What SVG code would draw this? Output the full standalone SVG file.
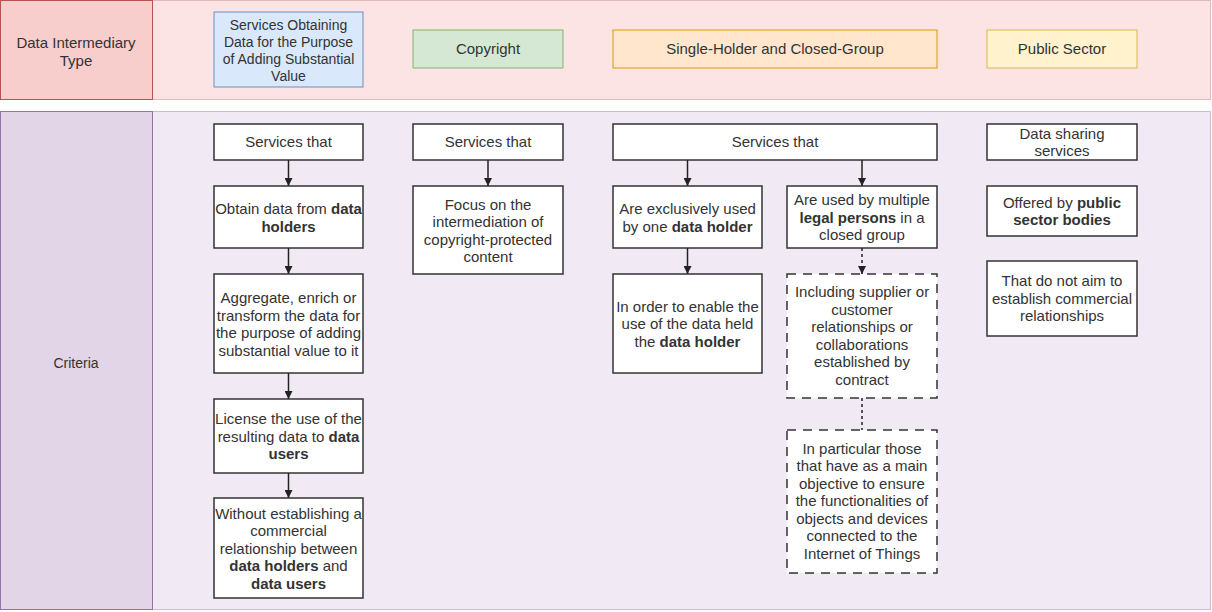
<svg xmlns="http://www.w3.org/2000/svg" width="1212" height="612" viewBox="0 0 1212 612">
<defs>
<style>
text{font-family:"Liberation Sans",Arial,Helvetica,sans-serif;font-size:15px;fill:#333;text-anchor:middle}
.b{font-weight:bold}
.h{font-size:14px}
.box{fill:#fff;stroke:#333;stroke-width:1.5}
.dash{fill:#fff;stroke:#333;stroke-width:1.5;stroke-dasharray:9 7}
.conn{stroke:#222;stroke-width:1.5;fill:none}
.dot{stroke:#222;stroke-width:1.5;fill:none;stroke-dasharray:3 3}
</style>
<marker id="ah" viewBox="0 0 10 10" refX="10" refY="5" markerWidth="8" markerHeight="8" markerUnits="userSpaceOnUse" orient="auto">
<path d="M0,0 L10,5 L0,10 z" fill="#222"/>
</marker>
</defs>
<g id="bands">
<rect x="0.5" y="0.5" width="1210" height="99" fill="#fde4e4" stroke="#e2b9b9"/>
<rect x="0.5" y="0.5" width="152" height="99" fill="#f8cecc" stroke="#b85450"/>
<rect x="0.5" y="111.5" width="1210" height="498" fill="#f1e9f3" stroke="#cdbbd6"/>
<rect x="0.5" y="111.5" width="152" height="498" fill="#e1d5e7" stroke="#9673a6"/>
</g>
<g id="hdr-type"><text x="76" y="48">Data Intermediary</text><text x="76" y="66">Type</text></g>
<g id="hdr-criteria"><text x="76" y="368" style="font-size:14px">Criteria</text></g>
<g id="type-value">
<rect x="214" y="12" width="149" height="75" fill="#dae8fc" stroke="#6c8ebf"/>
<text class="h" x="288.5" y="29.5">Services Obtaining</text><text class="h" x="288.5" y="46.5">Data for the Purpose</text><text class="h" x="288.5" y="63.5">of Adding Substantial</text><text class="h" x="288.5" y="80.5">Value</text>
</g>
<g id="type-copyright">
<rect x="413" y="30" width="150" height="38" fill="#d5e8d4" stroke="#82b366"/>
<text x="488" y="54">Copyright</text>
</g>
<g id="type-single">
<rect x="613" y="30" width="324" height="38" fill="#ffe6cc" stroke="#d79b00"/>
<text x="775" y="54">Single-Holder and Closed-Group</text>
</g>
<g id="type-public">
<rect x="987" y="30" width="150" height="38" fill="#fff2cc" stroke="#d6b656"/>
<text x="1062" y="54">Public Sector</text>
</g>
<g id="c1-services"><rect class="box" x="214" y="124" width="149" height="36"/><text x="288.5" y="147">Services that</text></g>
<g id="c1-obtain"><rect class="box" x="214" y="186" width="149" height="62"/><text x="288.5" y="214">Obtain data from <tspan class="b">data</tspan></text><text x="288.5" y="231.5" class="b">holders</text></g>
<g id="c1-aggregate"><rect class="box" x="214" y="274" width="149" height="99"/><text x="288.5" y="303">Aggregate, enrich or</text><text x="288.5" y="320.5">transform the data for</text><text x="288.5" y="338">the purpose of adding</text><text x="288.5" y="355.5">substantial value to it</text></g>
<g id="c1-license"><rect class="box" x="214" y="399" width="149" height="74"/><text x="288.5" y="424">License the use of the</text><text x="288.5" y="441.5">resulting data to <tspan class="b">data</tspan></text><text x="288.5" y="459" class="b">users</text></g>
<g id="c1-without"><rect class="box" x="214" y="498" width="149" height="100"/><text x="288.5" y="518.5">Without establishing a</text><text x="288.5" y="536">commercial</text><text x="288.5" y="553.5">relationship between</text><text x="288.5" y="571"><tspan class="b">data holders</tspan> and</text><text x="288.5" y="588.5" class="b">data users</text></g>
<g id="c2-services"><rect class="box" x="413" y="124" width="150" height="36"/><text x="488" y="147">Services that</text></g>
<g id="c2-focus"><rect class="box" x="413" y="186" width="150" height="88"/><text x="488" y="209.5">Focus on the</text><text x="488" y="227">intermediation of</text><text x="488" y="244.5">copyright-protected</text><text x="488" y="262">content</text></g>
<g id="c3-services"><rect class="box" x="613" y="124" width="324" height="36"/><text x="775" y="147">Services that</text></g>
<g id="c3-exclusive"><rect class="box" x="613" y="186" width="149" height="62"/><text x="687.5" y="214">Are exclusively used</text><text x="687.5" y="231.5">by one <tspan class="b">data holder</tspan></text></g>
<g id="c3-inorder"><rect class="box" x="613" y="274" width="149" height="99"/><text x="687.5" y="311.5">In order to enable the</text><text x="687.5" y="329">use of the data held</text><text x="687.5" y="346.5">the <tspan class="b">data holder</tspan></text></g>
<g id="c3-multiple"><rect class="box" x="787" y="186" width="150" height="62"/><text x="862" y="205">Are used by multiple</text><text x="862" y="222.5"><tspan class="b">legal persons</tspan> in a</text><text x="862" y="240">closed group</text></g>
<g id="c3-including"><rect class="dash" x="787" y="274" width="150" height="124"/><text x="862" y="297">Including supplier or</text><text x="862" y="314.5">customer</text><text x="862" y="332">relationships or</text><text x="862" y="349.5">collaborations</text><text x="862" y="367">established by</text><text x="862" y="384.5">contract</text></g>
<g id="c3-iot"><rect class="dash" x="787" y="430" width="150" height="143"/><text x="862" y="453.5">In particular those</text><text x="862" y="471">that have as a main</text><text x="862" y="488.5">objective to ensure</text><text x="862" y="506">the functionalities of</text><text x="862" y="523.5">objects and devices</text><text x="862" y="541">connected to the</text><text x="862" y="558.5">Internet of Things</text></g>
<g id="c4-sharing"><rect class="box" x="987" y="124" width="150" height="36"/><text x="1062" y="138.5">Data sharing</text><text x="1062" y="156">services</text></g>
<g id="c4-offered"><rect class="box" x="987" y="186" width="150" height="50"/><text x="1062" y="207.5">Offered by <tspan class="b">public</tspan></text><text x="1062" y="225" class="b">sector bodies</text></g>
<g id="c4-notaim"><rect class="box" x="987" y="261" width="150" height="75"/><text x="1062" y="286">That do not aim to</text><text x="1062" y="303.5">establish commercial</text><text x="1062" y="321">relationships</text></g>
<g id="connectors">
<line class="conn" x1="288.5" y1="160" x2="288.5" y2="186" marker-end="url(#ah)"/>
<line class="conn" x1="288.5" y1="248" x2="288.5" y2="274" marker-end="url(#ah)"/>
<line class="conn" x1="288.5" y1="373" x2="288.5" y2="399" marker-end="url(#ah)"/>
<line class="conn" x1="288.5" y1="473" x2="288.5" y2="498" marker-end="url(#ah)"/>
<line class="conn" x1="488" y1="160" x2="488" y2="186" marker-end="url(#ah)"/>
<line class="conn" x1="687.5" y1="160" x2="687.5" y2="186" marker-end="url(#ah)"/>
<line class="conn" x1="687.5" y1="248" x2="687.5" y2="274" marker-end="url(#ah)"/>
<line class="conn" x1="862" y1="160" x2="862" y2="186" marker-end="url(#ah)"/>
<line class="dot" x1="862" y1="248" x2="862" y2="274" marker-end="url(#ah)"/>
<line class="dot" x1="862" y1="398" x2="862" y2="430"/>
</g>
</svg>
